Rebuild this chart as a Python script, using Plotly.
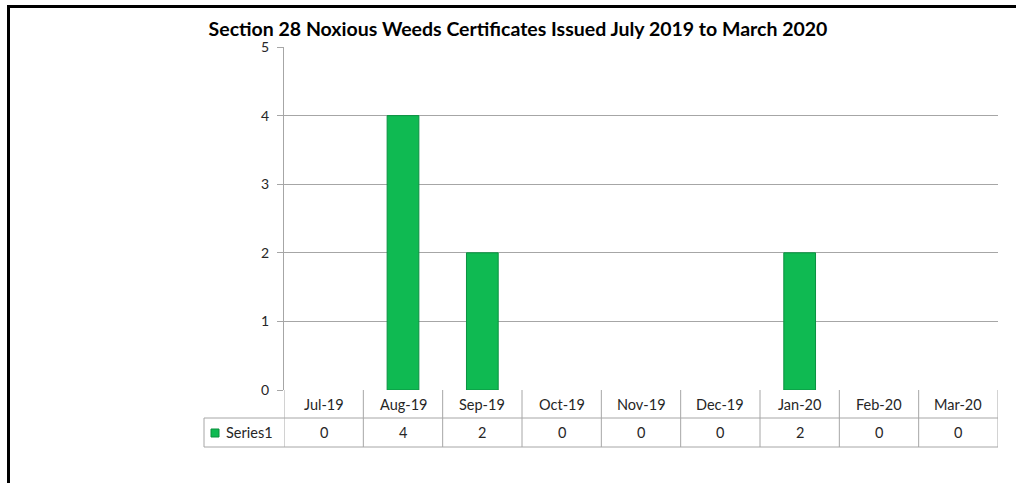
import plotly.graph_objects as go

categories = ["Jul-19", "Aug-19", "Sep-19", "Oct-19", "Nov-19", "Dec-19", "Jan-20", "Feb-20", "Mar-20"]
values = [0, 4, 2, 0, 0, 0, 2, 0, 0]
series_name = "Series1"
y_ticks = [0, 1, 2, 3, 4, 5]
title_text = "Section 28 Noxious Weeds Certificates Issued July 2019 to March 2020"

W, H = 1016, 483
L, R, T, B = 284, 18, 47, 93
PW, PH = W - L - R, H - T - B

def px_x(px):
    return (px - L) / PW

def px_y(py):
    return (H - B - py) / PH

FONT = "Lato"
GRID = "#A6A6A6"
TXT = "#262626"
BAR = "#0FBA52"
EDGE = "#0A9140"

fig = go.Figure()
fig.add_trace(go.Bar(
    x=list(range(len(categories))), y=values, name=series_name,
    width=0.40,
    marker=dict(color=BAR, line=dict(color=EDGE, width=[1 if v > 0 else 0 for v in values])),
    showlegend=False, hoverinfo="skip",
))

shapes = []
annotations = []
row1_top, row1_bot, row2_bot = px_y(390), px_y(418), px_y(447)
n = len(categories)
shapes.append(dict(type="line", xref="x", yref="paper", x0=-0.5, x1=n - 0.5, y0=row1_bot, y1=row1_bot, line=dict(color=GRID, width=1)))
shapes.append(dict(type="line", xref="paper", yref="paper", x0=px_x(204), x1=1, y0=row2_bot, y1=row2_bot, line=dict(color=GRID, width=1)))
shapes.append(dict(type="line", xref="paper", yref="paper", x0=px_x(204), x1=0, y0=row1_bot, y1=row1_bot, line=dict(color=GRID, width=1)))
shapes.append(dict(type="line", xref="paper", yref="paper", x0=px_x(204), x1=px_x(204), y0=row1_bot, y1=row2_bot, line=dict(color=GRID, width=1)))
for i in range(n + 1):
    shapes.append(dict(type="line", xref="x", yref="paper", x0=i - 0.5, x1=i - 0.5, y0=row1_top, y1=row2_bot, line=dict(color=GRID, width=1)))
for i, (c, v) in enumerate(zip(categories, values)):
    annotations.append(dict(x=i, y=(row1_top + row1_bot) / 2, xref="x", yref="paper", text=c, showarrow=False,
                            font=dict(family=FONT, size=14.5, color=TXT), xanchor="center", yanchor="middle"))
    annotations.append(dict(x=i, y=(row1_bot + row2_bot) / 2, xref="x", yref="paper", text=str(v), showarrow=False,
                            font=dict(family=FONT, size=14.5, color=TXT), xanchor="center", yanchor="middle"))
shapes.append(dict(type="rect", xref="paper", yref="paper", x0=px_x(211), x1=px_x(219), y0=px_y(437), y1=px_y(429),
                   fillcolor=BAR, line=dict(color="#0A8F3C", width=1)))
annotations.append(dict(x=px_x(224), y=(row1_bot + row2_bot) / 2, xref="paper", yref="paper", text=series_name, showarrow=False,
                        font=dict(family=FONT, size=14.5, color=TXT), xanchor="left", yanchor="middle"))
shapes.append(dict(type="line", xref="paper", yref="paper", x0=px_x(8.5), x1=px_x(8.5), y0=px_y(5), y1=px_y(483), line=dict(color="black", width=3)))
shapes.append(dict(type="line", xref="paper", yref="paper", x0=px_x(7), x1=px_x(1016), y0=px_y(6.5), y1=px_y(6.5), line=dict(color="black", width=3)))

fig.update_layout(
    width=W, height=H, autosize=False,
    margin=dict(l=L, r=R, t=T, b=B, autoexpand=False),
    paper_bgcolor="white", plot_bgcolor="white",
    title=dict(text="<b>" + title_text + "</b>", x=518 / W, xref="container", xanchor="center",
               y=1 - 29 / H, yref="container", yanchor="middle",
               font=dict(family=FONT, size=19.5, color="black")),
    xaxis=dict(range=[-0.5, n - 0.5], showticklabels=False, showgrid=False, zeroline=False,
               showline=False, ticks="", fixedrange=True),
    yaxis=dict(range=[0, 5], tickvals=y_ticks, showgrid=True, gridcolor=GRID, gridwidth=1,
               zeroline=False, showline=True, linecolor=GRID, linewidth=1,
               ticks="outside", ticklen=6, tickcolor=GRID, tickfont=dict(family=FONT, size=14, color=TXT),
               ticklabelstandoff=5, fixedrange=True),
    shapes=shapes, annotations=annotations,
)

fig.write_html("out.html", config={"displayModeBar": False},
               post_script="document.body.style.margin='0';document.body.style.overflow='hidden';")
